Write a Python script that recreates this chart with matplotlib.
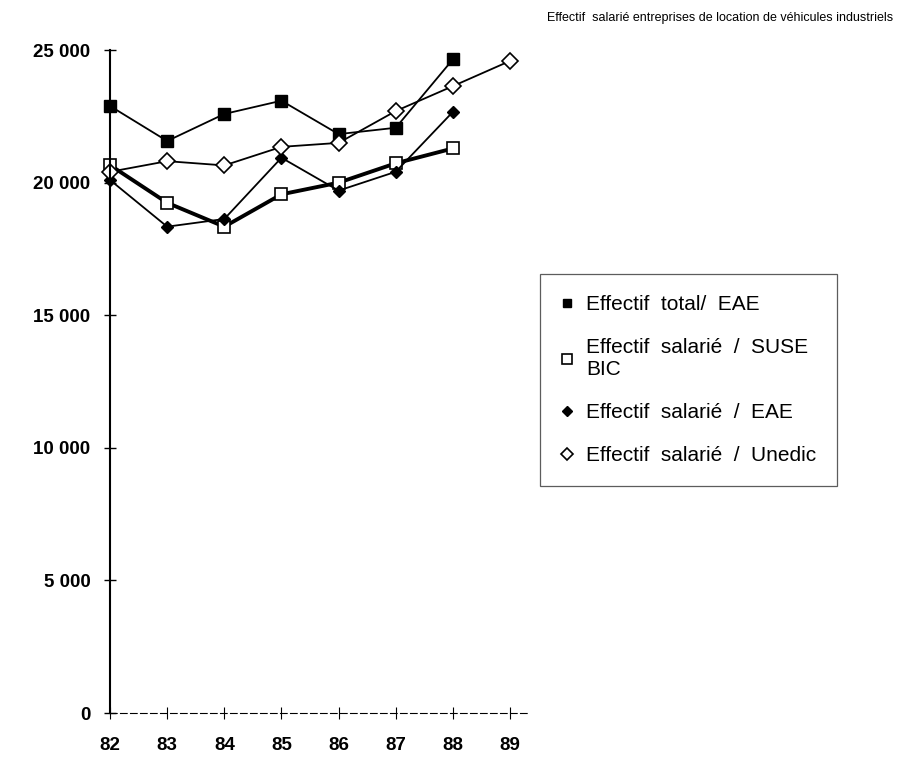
import numpy as np
import matplotlib
matplotlib.use('Agg')
import matplotlib.pyplot as plt

plt.rcParams['font.family'] = ['Liberation Sans', 'DejaVu Sans']

years = [82, 83, 84, 85, 86, 87, 88, 89]
year_labels = ['82', '83', '84', '85', '86', '87', '88', '89']

total_eae = [22890, 21570, 22590, 23090, 21830, 22070, 24650]
salarie_suse = [20660, 19240, 18340, 19560, 20000, 20730, 21290]
salarie_eae = [20100, 18340, 18630, 20940, 19700, 20410, 22670]
salarie_unedic = [20410, 20810, 20650, 21350, 21500, 22700, 23640, 24590]

yticks = [0, 5000, 10000, 15000, 20000, 25000]
ytick_labels = ['0', '5 000', '10 000', '15 000', '20 000', '25 000']

fig = plt.figure(figsize=(8.99, 7.62), dpi=100)
ax = fig.add_axes([0.1224, 0.0643, 0.464, 0.870])

ax.plot(years[:7], total_eae, color='black', lw=1.3, marker='s', ms=8,
        mfc='black', mec='black', label='Effectif  total/  EAE', clip_on=False)
ax.plot(years[:7], salarie_suse, color='black', lw=2.8, marker='s', ms=9,
        mfc='white', mec='black', mew=1.2, label='Effectif  salarié  /  SUSE\nBIC',
        clip_on=False)
ax.plot(years[:7], salarie_eae, color='black', lw=1.3, marker='D', ms=6,
        mfc='black', mec='black', label='Effectif  salarié  /  EAE', clip_on=False)
ax.plot(years, salarie_unedic, color='black', lw=1.3, marker='D', ms=8,
        mfc='white', mec='black', mew=1.2, label='Effectif  salarié  /  Unedic',
        clip_on=False)

ax.set_xlim(82, 89.3)
ax.set_ylim(0, 25000)
ax.set_xticks(years)
ax.set_xticklabels(year_labels, fontsize=13.5, fontweight='bold')
ax.set_yticks(yticks)
ax.set_yticklabels(ytick_labels, fontsize=13.5, fontweight='bold')
ax.tick_params(axis='y', direction='inout', length=8, width=1, pad=10)
ax.tick_params(axis='x', direction='inout', length=8, width=0.8, pad=13)

for s in ['top', 'right']:
    ax.spines[s].set_visible(False)
ax.spines['left'].set_linewidth(1.5)
ax.spines['bottom'].set_linewidth(0.8)
ax.spines['bottom'].set_linestyle((0, (6, 3)))

# legend: markers only
handles, labels = ax.get_legend_handles_labels()
leg = ax.legend(handles, labels, loc='upper left', bbox_to_anchor=(1.031, 0.662),
                frameon=True, fancybox=False, fontsize=15, handlelength=0.6,
                handletextpad=0.6, labelspacing=1.15, borderpad=1.0,
                markerscale=0.8, borderaxespad=0)
for line in leg.get_lines():
    line.set_linestyle('None')
leg.get_frame().set_edgecolor('#333333')
leg.get_frame().set_linewidth(0.9)

fig.text(0.993, 0.977, 'Effectif  salarié entreprises de location de véhicules industriels',
         ha='right', va='center', fontsize=9)

fig.savefig('out.png', dpi=100)
